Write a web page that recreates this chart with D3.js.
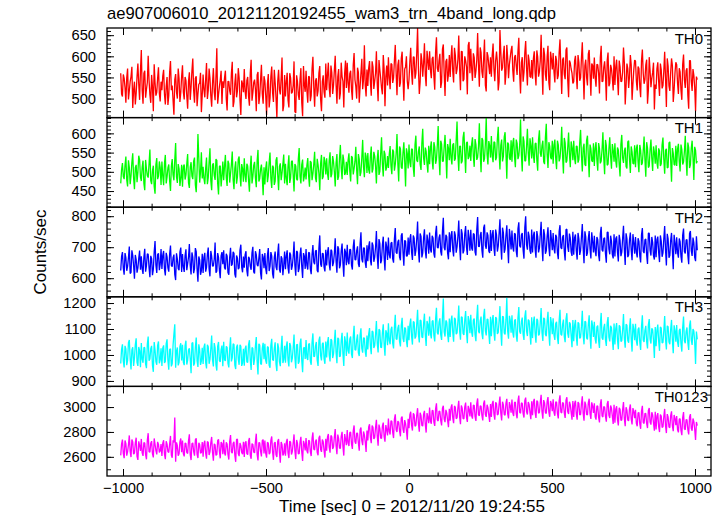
<!DOCTYPE html>
<html><head><meta charset="utf-8">
<script src="https://cdn.jsdelivr.net/npm/d3@7"></script>
<style>
body{margin:0;background:#fff}
svg{display:block}
text{font-family:"Liberation Sans",Arial,Helvetica,sans-serif;fill:#000}
</style>
</head><body>
<svg id="chart" width="724" height="516"></svg>
<script>
const titleText = "ae907006010_20121120192455_wam3_trn_4band_long.qdp";
const xLabelText = "Time [sec] 0 = 2012/11/20 19:24:55";
const yLabelText = "Counts/sec";

// time bins (sec, relative to 2012/11/20 19:24:55), 3 s binning
const times = d3.range(-1008, 1009, 3);

const th0 = [
560,511,505,557,548,526,490,549,571,498,518,540,552,575,478,520,540,486,512,552,583,534,497,566,
615,519,488,560,566,502,522,538,601,544,509,490,556,527,470,581,538,507,515,548,574,513,493,540,
520,553,568,510,486,529,551,485,507,562,589,520,531,496,462,545,558,515,500,571,547,492,515,553,
579,515,498,551,543,506,476,540,562,497,527,566,595,519,490,548,553,482,511,534,536,561,468,509,
557,521,503,546,584,499,519,571,548,507,481,537,572,515,496,553,619,488,510,528,544,566,487,541,
525,549,566,500,472,541,540,518,509,560,587,480,493,536,559,503,518,572,549,497,461,543,535,515,
570,517,499,543,551,505,483,561,592,495,514,538,545,522,470,556,563,487,506,545,580,511,488,553,
542,508,461,535,558,479,501,552,576,514,492,568,538,502,455,541,568,521,510,549,597,470,483,556,
505,540,561,497,479,560,549,512,515,531,588,469,466,555,540,509,497,546,572,490,458,577,533,516,
566,519,490,553,551,494,507,570,599,528,481,542,548,505,518,561,577,498,470,540,555,516,502,583,
520,556,585,526,503,578,562,511,531,567,601,533,488,552,570,498,512,585,552,541,479,560,590,525,
585,537,514,559,566,521,497,580,608,545,529,500,573,562,490,528,561,594,522,545,626,531,505,569,
530,572,589,540,507,588,575,523,541,560,612,535,494,591,568,548,525,510,603,570,482,552,578,531,
598,550,522,583,581,537,549,590,627,561,508,579,592,528,537,595,611,548,495,570,575,600,541,522,
545,588,620,561,533,599,598,547,560,606,667,572,511,540,607,590,552,583,631,556,529,613,590,568,
612,567,548,595,599,553,521,610,645,572,563,590,606,525,538,617,628,560,506,588,594,540,557,603,
551,597,626,565,538,620,603,558,569,593,649,570,520,612,611,541,546,600,590,575,510,626,634,560,
618,571,542,607,597,549,565,592,655,580,528,621,609,563,549,595,640,532,517,610,601,577,558,598,
552,603,630,570,541,590,611,586,519,540,662,611,566,573,604,625,533,559,627,596,548,581,598,614,
625,566,540,598,603,577,556,612,644,560,512,585,598,540,562,609,636,573,531,604,590,552,550,591,
547,595,612,560,531,614,598,552,563,590,651,574,509,620,604,557,542,599,625,538,520,611,593,569,
608,563,538,601,590,546,555,609,640,571,511,592,597,558,546,615,621,544,503,590,584,570,560,536,
540,589,601,557,522,603,586,542,549,596,633,565,498,578,592,550,531,606,615,560,507,583,579,547,
597,550,528,581,580,560,512,597,625,540,541,574,588,556,495,590,609,529,536,580,571,548,519,600,
532,575,592,548,508,590,575,540,541,563,621,585,486,529,583,571,525,552,603,580,497,535,568,591,
589,542,519,576,571,528,503,590,616,560,535,545,580,592,488,520,598,566,527,548,562,585,474,533,
523,571,586,540,506,583,568,524,531,566,611,548,480,595,577,530,518,562,595,578,492,521,560,586,
580,537,511,572,563,520,497,581,604,545,525,566,572,508,476,590,590,541,518,570,555,527,470,552,
545];

const th1 = [
470,506,523,488,481,517,540,479,462,530,512,468,490,525,548,484,455,511,518,473,499,542,531,486,
476,512,529,470,452,531,507,490,485,521,558,477,468,503,516,462,443,519,536,481,489,527,511,466,
527,489,465,522,544,470,487,510,519,476,450,514,533,492,478,531,575,487,471,520,508,463,484,518,
461,514,519,480,492,521,546,471,458,512,525,489,481,528,537,466,447,504,598,535,472,500,551,483,
513,482,468,509,537,468,485,526,561,477,452,518,522,491,479,533,530,470,441,514,516,462,490,527,
478,516,544,485,463,529,521,472,496,519,553,480,455,510,527,469,486,533,540,492,462,520,508,474,
535,490,473,521,515,478,448,511,542,470,488,517,526,484,460,529,557,475,482,507,519,486,439,512,
467,509,527,473,490,524,550,483,458,516,512,466,476,530,538,491,452,514,522,478,497,520,545,470,
521,483,465,515,543,471,484,527,529,492,449,520,515,481,478,534,562,488,470,519,532,475,488,511,
480,517,536,489,461,528,524,478,495,520,552,484,473,534,518,495,452,522,544,481,488,539,527,493,
535,495,479,530,551,486,494,541,527,500,462,523,546,479,488,536,570,510,481,545,529,492,497,526,
492,530,548,501,475,541,537,493,508,527,565,505,468,546,533,489,499,537,583,512,486,550,540,497,
549,506,495,540,566,498,508,552,541,515,470,534,557,492,501,548,590,520,488,555,546,503,512,541,
510,546,567,515,494,558,553,503,519,547,598,521,475,566,560,512,508,550,577,526,462,561,548,509,
571,525,512,560,558,511,487,570,594,530,526,553,566,519,505,575,612,536,518,563,553,521,498,568,
520,562,579,530,506,577,565,521,532,569,619,538,491,581,572,527,528,565,596,544,483,572,561,530,
586,537,519,570,574,529,534,583,631,545,502,566,567,522,528,589,604,549,497,575,578,533,540,568,
528,572,590,540,513,585,571,531,538,566,626,548,499,588,582,526,534,573,640,545,519,580,569,537,
593,541,525,578,576,530,537,586,617,550,506,569,584,527,540,591,603,548,482,576,572,536,531,582,
526,575,588,539,512,584,574,533,542,570,636,545,501,592,579,528,529,566,612,549,516,587,568,535,
590,542,523,573,575,531,503,584,608,549,539,568,581,526,520,590,625,545,510,577,567,538,533,581,
521,570,584,535,507,581,570,527,536,566,617,541,496,588,575,524,528,563,602,546,512,579,563,530,
581,535,520,567,566,524,532,576,609,543,501,562,573,519,515,582,594,540,486,571,560,529,526,574,
515,562,577,531,503,575,561,522,528,558,603,537,494,583,568,517,520,560,590,540,508,572,556,526,
574,528,511,563,557,519,488,572,596,536,523,555,563,514,509,578,581,533,497,566,552,522,520,569,
512,560,571,526,499,570,556,518,523,555,592,532,487,577,562,511,515,558,584,535,502,566,551,521,
569,524,508,561,554,515,521,570,589,533,495,556,560,510,512,575,578,530,474,562,548,519,517,568,
515,559,573,527,501,571,558,519,526,553,594,534,490,576,563,510,518,561,581,537,479,565,556,522,
528];

const th2 = [
625,670,684,632,611,681,666,624,638,666,702,615,619,690,674,640,598,675,660,618,633,664,689,627,
671,630,614,668,695,621,640,679,677,635,603,672,663,610,628,684,720,643,617,676,680,626,645,694,
630,674,688,628,609,682,669,633,621,677,705,641,637,666,676,612,594,680,662,631,626,685,699,620,
678,637,620,673,693,626,647,668,710,641,612,683,668,616,631,697,686,629,589,670,659,611,624,679,
617,668,682,621,635,676,699,630,606,688,671,639,640,662,715,618,623,681,667,627,600,672,684,645,
690,634,628,679,672,618,611,668,698,640,645,685,680,613,602,673,665,629,633,691,708,636,619,670,
634,676,687,625,606,669,664,638,627,682,701,620,615,687,676,643,639,665,694,617,596,678,668,632,
681,631,613,674,697,623,638,684,672,615,599,667,686,637,626,680,712,628,618,671,663,610,641,686,
629,672,690,634,615,683,676,627,640,669,718,641,608,688,684,620,632,677,699,639,601,681,671,630,
694,641,628,683,682,630,613,676,707,652,645,688,690,625,619,697,738,646,637,680,679,636,622,692,
641,683,700,645,625,692,688,639,650,680,729,655,618,703,695,632,642,688,712,650,605,695,684,642,
708,654,645,693,692,641,628,702,725,660,659,689,703,646,636,711,748,662,651,698,697,650,633,706,
655,702,719,660,641,715,706,653,667,700,752,671,630,726,712,648,658,708,734,666,625,718,701,659,
731,676,664,713,716,662,650,726,762,683,679,717,724,668,658,738,745,684,640,722,719,671,672,731,
676,725,742,684,659,738,729,672,690,726,783,690,651,744,735,667,681,730,758,688,664,741,722,679,
747,692,683,737,730,679,666,745,769,700,697,731,741,686,673,752,795,699,690,740,734,681,661,748,
684,739,752,693,670,751,738,682,701,735,786,705,658,758,744,680,690,743,768,700,675,756,731,689,
756,697,689,744,742,684,673,756,797,703,702,737,749,690,666,762,773,706,695,748,738,688,681,755,
688,741,755,698,672,757,740,686,703,744,790,707,660,763,747,682,694,738,771,704,648,759,733,693,
754,700,686,745,741,687,668,759,780,705,699,739,746,691,663,764,800,708,692,750,736,689,679,757,
683,738,750,694,666,752,734,683,697,741,782,704,655,758,741,679,688,735,764,701,671,755,727,690,
746,695,680,740,733,682,661,751,771,699,694,733,739,686,657,757,758,701,685,744,729,684,672,750,
676,731,741,688,660,746,727,675,690,733,775,697,648,751,733,672,681,728,752,694,664,748,719,683,
737,688,671,733,724,675,655,744,766,691,686,728,730,679,650,748,749,694,677,737,720,676,664,742,
670,727,735,684,654,740,721,671,684,729,769,693,643,745,728,668,675,724,747,690,658,742,716,679,
733,684,667,729,719,671,651,740,762,687,681,724,726,675,646,745,745,690,673,733,716,672,660,738,
668,725,734,682,652,738,720,669,682,727,768,691,641,743,727,666,673,722,746,688,629,740,715,677,
732,683,666,728,718,670,650,739,760,686,680,723,725,674,645,744,752,689,672,731,715,667,655,735,
690];

const th3 = [
967,1022,1041,976,952,1035,1023,961,979,1047,1058,985,944,1019,1030,958,988,1040,1064,972,958,1031,1017,953,
1046,983,970,1029,1028,965,949,1042,1071,978,985,1024,1035,960,935,1050,1019,975,962,1037,1052,968,981,1026,
958,1027,1037,969,975,1044,1060,980,943,1021,1024,956,966,1038,1081,1118,951,1015,1029,960,972,1033,1045,979,
1039,972,961,1036,1055,963,980,1020,1026,985,930,1045,1048,959,968,1030,1067,977,954,1041,1021,962,976,1028,
965,1030,1044,971,948,1039,1032,966,983,1025,1075,981,956,1046,1027,962,940,1034,1050,978,973,1021,1036,957,
1051,981,977,1033,1029,968,952,1026,1068,975,989,1043,1040,961,946,1030,1040,984,962,1039,1033,958,969,1024,
959,1024,1036,973,971,1040,1057,980,942,1029,1025,962,984,1035,1069,976,925,1043,1038,967,963,1026,1047,984,
1043,978,966,1032,1030,960,951,1037,1062,983,978,1026,1049,965,938,1045,1027,973,957,1028,1074,969,982,1035,
970,1033,1052,980,956,1046,1035,972,987,1028,1079,990,948,1039,1041,966,975,1044,1063,979,934,1025,1030,985,
1058,990,981,1041,1044,976,962,1049,1083,994,995,1035,1050,980,958,1056,1071,997,979,1043,1047,985,966,1052,
990,1048,1069,999,975,1061,1056,988,1003,1050,1097,1010,968,1066,1062,993,996,1055,1085,1004,958,1072,1051,996,
1086,1017,1005,1062,1071,1003,988,1071,1112,1020,1018,1058,1079,1008,996,1077,1103,1025,1009,1066,1065,1013,993,1075,
1021,1080,1104,1035,1003,1092,1089,1027,1036,1079,1131,1044,1010,1099,1095,1030,1028,1086,1118,1042,997,1095,1084,1038,
1122,1055,1041,1098,1109,1046,1025,1107,1155,1062,1060,1103,1116,1051,1033,1114,1143,1064,1050,1106,1101,1054,1030,1112,
1057,1117,1140,1072,1040,1129,1126,1063,1071,1118,1174,1080,1048,1135,1132,1069,1066,1121,1159,1078,1035,1131,1118,1074,
1148,1082,1064,1130,1133,1075,1052,1138,1182,1086,1079,1126,1141,1077,1058,1144,1217,1089,1071,1133,1127,1080,1049,1140,
1069,1131,1152,1087,1051,1143,1138,1080,1085,1129,1190,1092,1059,1147,1145,1083,1077,1135,1169,1090,1045,1150,1131,1084,
1155,1088,1070,1134,1140,1079,1053,1145,1193,1091,1084,1131,1148,1082,1061,1150,1178,1094,1075,1138,1137,1085,1042,1147,
1072,1133,1154,1089,1055,1146,1141,1081,1087,1130,1188,1094,1036,1149,1147,1085,1079,1136,1220,1092,1063,1151,1134,1086,
1153,1086,1067,1132,1137,1077,1051,1143,1185,1090,1082,1128,1144,1080,1058,1148,1172,1092,1073,1136,1131,1083,1040,1145,
1065,1127,1148,1083,1047,1139,1133,1075,1080,1125,1181,1088,1054,1143,1139,1079,1072,1130,1166,1085,1036,1146,1125,1080,
1141,1076,1058,1121,1128,1068,1042,1133,1174,1080,1075,1118,1136,1071,1049,1138,1161,1083,1066,1126,1120,1074,1030,1135,
1053,1114,1135,1071,1036,1126,1121,1064,1068,1111,1170,1077,1041,1130,1127,1066,1060,1117,1153,1073,1024,1133,1112,1069,
1128,1062,1044,1108,1113,1055,1027,1118,1162,1066,1059,1104,1120,1058,1035,1124,1146,1069,1052,1112,1105,1061,1019,1121,
1040,1102,1123,1059,1022,1114,1109,1052,1055,1098,1158,1064,1028,1118,1115,1056,1047,1105,1141,1062,1013,1120,1100,1057,
1120,1054,1036,1099,1106,1049,1019,1110,1153,1058,1050,1095,1112,1052,1025,1116,1138,1061,1044,1103,1097,1055,988,1108,
1034,1096,1117,1053,1016,1108,1103,1046,1048,1093,1150,1060,1021,1112,1109,1050,1041,1099,1135,1057,1007,1114,1094,1051,
1115,1049,1031,1095,1101,1044,1013,1107,1148,1055,1045,1091,1106,1048,1019,1113,1133,1058,1039,1100,1092,1051,965,1090,
1060];

const th0123 = [
2612,2705,2738,2628,2589,2731,2705,2610,2641,2697,2772,2644,2598,2740,2719,2621,2630,2712,2754,2603,2575,2725,2693,2648,
2744,2632,2608,2714,2711,2617,2580,2735,2790,2641,2637,2709,2726,2624,2595,2748,2701,2650,2620,2720,2700,2636,2648,2702,
2607,2710,2733,2622,2581,2726,2702,2641,2636,2703,2768,2615,2593,2733,2715,2915,2561,2716,2689,2609,2625,2722,2747,2637,
2731,2625,2604,2711,2706,2634,2627,2728,2781,2618,2574,2706,2712,2641,2610,2737,2749,2620,2590,2713,2698,2630,2633,2719,
2602,2707,2729,2629,2585,2723,2716,2615,2640,2714,2760,2636,2569,2704,2695,2612,2618,2730,2741,2645,2588,2718,2707,2621,
2737,2630,2611,2716,2703,2619,2578,2724,2775,2640,2629,2708,2720,2613,2560,2739,2744,2627,2606,2711,2690,2635,2622,2720,
2598,2713,2724,2626,2617,2728,2751,2612,2584,2706,2700,2638,2632,2722,2786,2620,2571,2715,2712,2643,2603,2731,2738,2627,
2730,2628,2593,2717,2709,2621,2631,2733,2764,2640,2576,2710,2718,2616,2599,2726,2743,2634,2552,2719,2697,2612,2626,2709,
2610,2716,2745,2632,2590,2727,2718,2619,2643,2711,2780,2645,2582,2735,2709,2624,2625,2718,2761,2639,2567,2729,2701,2651,
2751,2648,2628,2733,2727,2641,2606,2748,2796,2662,2655,2724,2738,2637,2612,2752,2770,2659,2640,2739,2721,2650,2594,2745,
2650,2760,2784,2676,2633,2772,2761,2664,2679,2758,2823,2689,2621,2779,2747,2670,2668,2765,2801,2684,2610,2783,2742,2693,
2815,2710,2687,2796,2798,2702,2664,2809,2852,2721,2705,2791,2790,2713,2650,2817,2836,2730,2694,2804,2777,2719,2640,2812,
2731,2840,2862,2757,2710,2852,2838,2744,2755,2836,2897,2768,2690,2859,2829,2751,2748,2847,2875,2763,2722,2855,2818,2772,
2908,2803,2779,2890,2886,2797,2751,2903,2941,2818,2800,2887,2879,2809,2765,2911,2924,2822,2792,2895,2866,2812,2738,2906,
2830,2938,2962,2855,2811,2949,2937,2846,2854,2933,2991,2868,2802,2955,2930,2852,2847,2941,2970,2861,2795,2952,2918,2870,
2996,2887,2866,2973,2972,2880,2848,2985,3030,2897,2888,2968,2964,2890,2853,2991,3011,2903,2879,2977,2953,2893,2838,2986,
2890,2998,3022,2913,2871,3009,2997,2906,2913,2994,3051,2921,2862,3013,2990,2909,2905,3001,3036,2918,2880,3010,2978,2925,
3038,2929,2907,3015,3014,2923,2889,3027,3069,2937,2930,3011,3006,2931,2892,3030,3053,2940,2921,3019,2995,2934,2880,3025,
2921,3028,3050,2943,2899,3039,3027,2936,2943,3024,3085,2951,2893,3043,3018,2940,2934,3031,3066,2947,2908,3040,3009,2955,
3061,2952,2928,3037,3039,2946,2910,3049,3092,2958,2950,3033,3030,2949,2916,3053,3076,2961,2940,3041,3021,2955,2902,3047,
2934,3043,3066,2957,2913,3052,3042,2950,2956,3038,3098,2963,2906,3056,3034,2954,2948,3045,3080,2960,2922,3049,3025,2966,
3063,2956,2930,3041,3040,2949,2909,3050,3094,2960,2952,3036,3031,2953,2913,3055,3079,2962,2944,3043,3020,2957,2898,3048,
2920,3029,3051,2944,2898,3040,3028,2937,2941,3026,3086,2950,2890,3044,3019,2941,2936,3033,3067,2948,2905,3038,3010,2952,
3031,2922,2899,3009,3008,2916,2877,3021,3062,2930,2920,3005,2999,2924,2883,3025,3049,2933,2912,3013,2990,2927,2865,3018,
2875,2983,3006,2899,2853,2994,2982,2892,2897,2979,3040,2906,2847,2998,2975,2895,2889,2986,3021,2903,2861,2992,2965,2910,
2978,2870,2846,2954,2955,2864,2825,2967,3010,2877,2868,2950,2947,2868,2831,2972,2993,2880,2859,2958,2937,2873,2810,2963,
2820,2928,2951,2843,2799,2939,2928,2836,2841,2924,2985,2851,2791,2943,2920,2840,2834,2931,2966,2848,2806,2936,2910,2855,
2927,2820,2796,2904,2905,2813,2774,2916,2960,2826,2818,2900,2897,2818,2780,2921,2943,2829,2809,2908,2885,2822,2735,2880,
2850];

const seriesNames = ["TH0","TH1","TH2","TH3","TH0123"];
const seriesValues = [th0, th1, th2, th3, th0123];
const seriesColors = ["#ff0000","#00ff00","#0000ff","#00ffff","#ff00ff"];
const yDomains = [[455,667],[408,641],[540,829],[879,1224],[2446,3166]];
const yMajorTicks = [[500,550,600,650],[450,500,550,600],[600,700,800],[900,1000,1100,1200],[2600,2800,3000]];
const yMinorTicks = [
  d3.range(460,661,10), d3.range(410,641,10), d3.range(540,821,20),
  d3.range(880,1221,20), d3.range(2500,3101,100)];
const xDomain = [-1056,1056];
const xMajorTicks = [-1000,-500,0,500,1000];
const xMinorTicks = d3.range(-1000,1001,100);

const svg = d3.select("#chart");
const L = 107, R = 711, T = 28, B = 476;
const nP = seriesValues.length;
const ph = (B - T) / nP;
const x = d3.scaleLinear().domain(xDomain).range([L, R]);
const fmt = d => d < 0 ? "\u2212" + Math.abs(d) : String(d);

svg.append("text").attr("x", 107).attr("y", 19)
  .style("font-size","16.6px").text(titleText);

seriesValues.forEach((vals, i) => {
  const top = T + i * ph, bot = top + ph;
  const y = d3.scaleLinear().domain(yDomains[i]).range([bot, top]);
  svg.append("clipPath").attr("id","clip"+i).append("rect")
    .attr("x", L).attr("y", top).attr("width", R - L).attr("height", ph);
  const g = svg.append("g");
  g.append("path").datum(vals)
    .attr("clip-path","url(#clip"+i+")")
    .attr("fill","none").attr("stroke", seriesColors[i]).attr("stroke-width", 1.3)
    .attr("stroke-linejoin","bevel")
    .attr("d", d3.line().x((d, j) => x(times[j])).y(d => y(d)));

  const style = a => { a.select(".domain").remove(); a.selectAll("line").attr("stroke","#000").attr("stroke-width",1); };
  g.append("g").attr("transform",`translate(${L},0)`)
    .call(d3.axisLeft(y).tickValues(yMajorTicks[i]).tickSize(-7).tickPadding(11).tickFormat(fmt))
    .call(style).call(a => a.selectAll("text").style("font-size","14.7px").attr("font-family",null));
  g.append("g").attr("transform",`translate(${L},0)`)
    .call(d3.axisLeft(y).tickValues(yMinorTicks[i]).tickSize(-4).tickFormat("")).call(style);
  g.append("g").attr("transform",`translate(${R},0)`)
    .call(d3.axisRight(y).tickValues(yMajorTicks[i]).tickSize(-7).tickFormat("")).call(style);
  g.append("g").attr("transform",`translate(${R},0)`)
    .call(d3.axisRight(y).tickValues(yMinorTicks[i]).tickSize(-4).tickFormat("")).call(style);
  g.append("g").attr("transform",`translate(0,${top})`)
    .call(d3.axisTop(x).tickValues(xMajorTicks).tickSize(-7).tickFormat("")).call(style);
  g.append("g").attr("transform",`translate(0,${top})`)
    .call(d3.axisTop(x).tickValues(xMinorTicks).tickSize(-3.5).tickFormat("")).call(style);
  const last = i === nP - 1;
  g.append("g").attr("transform",`translate(0,${bot})`)
    .call(d3.axisBottom(x).tickValues(xMajorTicks).tickSize(-7).tickPadding(7).tickFormat(last ? fmt : ""))
    .call(style).call(a => a.selectAll("text").style("font-size","14.7px").attr("font-family",null));
  g.append("g").attr("transform",`translate(0,${bot})`)
    .call(d3.axisBottom(x).tickValues(xMinorTicks).tickSize(-3.5).tickFormat("")).call(style);
  g.append("rect").attr("x", L).attr("y", top).attr("width", R - L).attr("height", ph)
    .attr("fill","none").attr("stroke","#000").attr("stroke-width",1.3);
  g.append("text").attr("x", last ? 708 : 703).attr("y", top + 15.5)
    .attr("text-anchor","end").style("font-size","15px").text(seriesNames[i]);
});

svg.append("text").attr("x", 412).attr("y", 512).attr("text-anchor","middle")
  .style("font-size","17px").text(xLabelText);
svg.append("text").attr("transform","translate(46,252) rotate(-90)").attr("text-anchor","middle")
  .style("font-size","17px").text(yLabelText);
</script>
</body></html>
